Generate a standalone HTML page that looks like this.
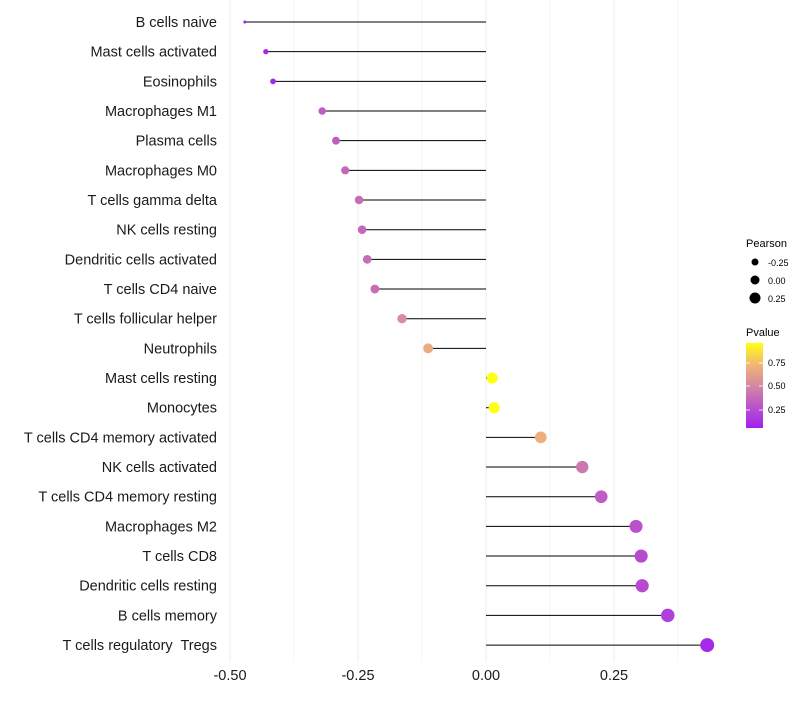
<!DOCTYPE html>
<html><head><meta charset="utf-8"><style>
body{margin:0;background:#fff;font-family:"Liberation Sans",sans-serif}
svg text{font-family:"Liberation Sans",sans-serif;white-space:pre}
</style></head><body>
<svg id="chart" width="800" height="700" xmlns="http://www.w3.org/2000/svg">
<g id="grid"></g><g id="marks"></g><g id="ylabels"></g><g id="xticks"></g>
<g>
<text x="746" y="247" font-size="11" fill="#000">Pearson</text>
<circle cx="755" cy="262" r="3.5" fill="#000"/><text x="768" y="266" font-size="9">-0.25</text>
<circle cx="755" cy="280" r="4.5" fill="#000"/><text x="768" y="284" font-size="9">0.00</text>
<circle cx="755" cy="298" r="5.5" fill="#000"/><text x="768" y="302" font-size="9">0.25</text>
</g>
<g>
<text x="746" y="336" font-size="11" fill="#000">Pvalue</text>
<defs><linearGradient id="pg" x1="0" y1="1" x2="0" y2="0">
<stop offset="0" stop-color="#a020f0"/><stop offset="0.48" stop-color="#d383a8"/><stop offset="0.74" stop-color="#f0b676"/><stop offset="1" stop-color="#ffff10"/></linearGradient></defs>
<rect x="746" y="343" width="17" height="85" fill="url(#pg)"/>
<g stroke="#fff" stroke-width="0.8"><line x1="746" x2="750" y1="363" y2="363"/><line x1="759" x2="763" y1="363" y2="363"/><line x1="746" x2="750" y1="386" y2="386"/><line x1="759" x2="763" y1="386" y2="386"/><line x1="746" x2="750" y1="410" y2="410"/><line x1="759" x2="763" y1="410" y2="410"/></g>
<text x="768" y="366" font-size="9">0.75</text><text x="768" y="389" font-size="9">0.50</text><text x="768" y="413" font-size="9">0.25</text>
</g>
</svg>
<script>
const categories=["B cells naive","Mast cells activated","Eosinophils","Macrophages M1","Plasma cells","Macrophages M0","T cells gamma delta","NK cells resting","Dendritic cells activated","T cells CD4 naive","T cells follicular helper","Neutrophils","Mast cells resting","Monocytes","T cells CD4 memory activated","NK cells activated","T cells CD4 memory resting","Macrophages M2","T cells CD8","Dendritic cells resting","B cells memory","T cells regulatory  Tregs"];
const pearson=[-0.471,-0.430,-0.416,-0.320,-0.293,-0.275,-0.248,-0.242,-0.232,-0.217,-0.164,-0.113,0.012,0.016,0.107,0.188,0.225,0.293,0.303,0.305,0.355,0.432];
const pvalues=[0.05,0.1,0.1,0.33,0.33,0.38,0.4,0.38,0.4,0.4,0.55,0.7,0.96,0.96,0.72,0.45,0.33,0.28,0.25,0.25,0.2,0.1];
const xTicks=[-0.5,-0.25,0,0.25];
const xTickLabels=["-0.50","-0.25","0.00","0.25"];
const NS="http://www.w3.org/2000/svg";
const xs=v=>486+v*512;
const ys=i=>22+i*29.67;
const pmin=Math.min(...pearson),pmax=Math.max(...pearson);
const rs=v=>1.5+5.5*Math.sqrt((v-pmin)/(pmax-pmin));
function lerp(a,b,t){return a.map((x,i)=>Math.round(x+(b[i]-x)*t));}
const stops=[[0.06,[160,32,240]],[0.5,[211,131,168]],[0.75,[240,182,118]],[0.96,[255,255,16]]];
function col(p){p=Math.max(0.06,Math.min(0.96,p));for(let i=0;i<stops.length-1;i++){if(p<=stops[i+1][0]){const t=(p-stops[i][0])/(stops[i+1][0]-stops[i][0]);const c=lerp(stops[i][1],stops[i+1][1],t);return `rgb(${c})`;}}return "rgb(255,255,16)";}
function mk(tag,attrs,parent){const e=document.createElementNS(NS,tag);for(const k in attrs)e.setAttribute(k,attrs[k]);document.getElementById(parent).appendChild(e);return e;}
for(let v=-0.5;v<=0.376;v+=0.125){const l=mk("line",{x1:xs(v),x2:xs(v),y1:0,y2:662,stroke:"#ebebeb","stroke-width":Math.abs((v*8)%2)<0.01?0.9:0.5},"grid");

}
categories.forEach((c,i)=>{const y=ys(i);
const ln=mk("line",{x1:xs(0),x2:xs(pearson[i]),y1:y,y2:y,stroke:"#000","stroke-width":1},"marks");


const pt=mk("circle",{cx:xs(pearson[i]),cy:y,r:rs(pearson[i]),fill:col(pvalues[i])},"marks");


const t=mk("text",{x:217,y:y+5,"text-anchor":"end","font-size":14.5,fill:"#1a1a1a"},"ylabels");t.textContent=c;

});
xTicks.forEach((v,i)=>{const t=mk("text",{x:xs(v),y:680,"text-anchor":"middle","font-size":14.5,fill:"#1a1a1a"},"xticks");t.textContent=xTickLabels[i];

});
</script>
</body></html>
